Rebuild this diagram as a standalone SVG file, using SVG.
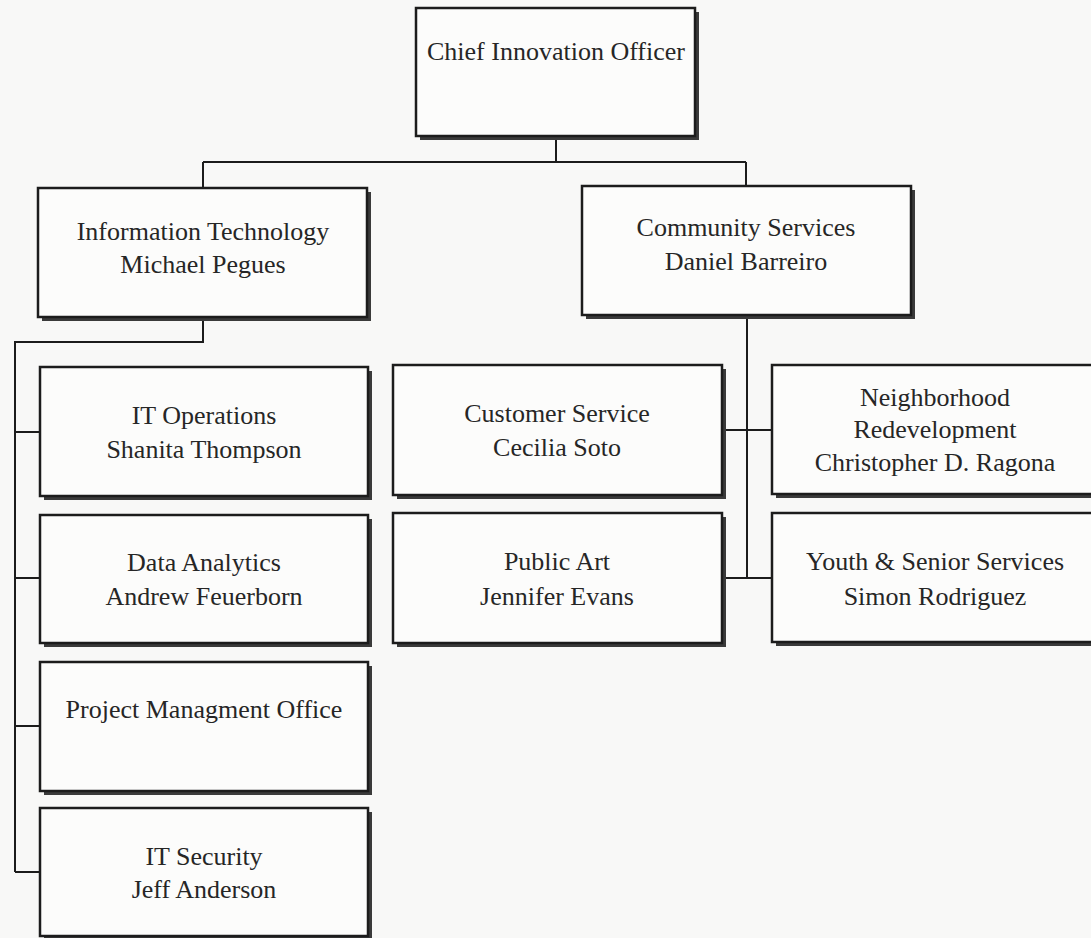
<svg xmlns="http://www.w3.org/2000/svg" width="1091" height="938" viewBox="0 0 1091 938">
  <style>
    .bg { fill: #f8f8f7; }
    .shadow { fill: #3a3a3a; }
    .box { fill: #fcfcfb; stroke: #1c1c1c; stroke-width: 2.5; }
    .link { fill: none; stroke: #1c1c1c; stroke-width: 2; }
    text { font-family: "Liberation Serif", "Times New Roman", serif; font-size: 26px; fill: #262626; text-anchor: middle; }
  </style>

  <rect class="bg" x="0" y="0" width="1091" height="938"/>

  <!-- reporting lines -->
  <g id="connectors">
    <path class="link" d="M556 136 V162 M203 162 H746 M203 162 V188 M746 162 V186"/>
    <path class="link" d="M203 317 V342 H15 V872 M15 432 H40 M15 578 H40 M15 726 H40 M15 872 H40"/>
    <path class="link" d="M747 315 V578 M722 430 H772 M722 578 H772"/>
  </g>

  <g id="chief">
    <rect class="shadow" x="420" y="12" width="279" height="128"/>
    <rect class="box" x="416" y="8" width="279" height="128"/>
    <text x="556" y="60">Chief Innovation Officer</text>
  </g>

  <g id="it">
    <rect class="shadow" x="42" y="192" width="329" height="129"/>
    <rect class="box" x="38" y="188" width="329" height="129"/>
    <text x="203" y="240">Information Technology</text>
    <text x="203" y="273">Michael Pegues</text>
  </g>

  <g id="community">
    <rect class="shadow" x="586" y="190" width="329" height="129"/>
    <rect class="box" x="582" y="186" width="329" height="129"/>
    <text x="746" y="236">Community Services</text>
    <text x="746" y="270">Daniel Barreiro</text>
  </g>

  <g id="it-operations">
    <rect class="shadow" x="44" y="371" width="328" height="129"/>
    <rect class="box" x="40" y="367" width="328" height="129"/>
    <text x="204" y="424">IT Operations</text>
    <text x="204" y="458">Shanita Thompson</text>
  </g>

  <g id="data-analytics">
    <rect class="shadow" x="44" y="519" width="328" height="128"/>
    <rect class="box" x="40" y="515" width="328" height="128"/>
    <text x="204" y="571">Data Analytics</text>
    <text x="204" y="605">Andrew Feuerborn</text>
  </g>

  <g id="pmo">
    <rect class="shadow" x="44" y="666" width="328" height="129"/>
    <rect class="box" x="40" y="662" width="328" height="129"/>
    <text x="204" y="718">Project Managment Office</text>
  </g>

  <g id="it-security">
    <rect class="shadow" x="44" y="812" width="328" height="128"/>
    <rect class="box" x="40" y="808" width="328" height="128"/>
    <text x="204" y="865">IT Security</text>
    <text x="204" y="898">Jeff Anderson</text>
  </g>

  <g id="customer-service">
    <rect class="shadow" x="397" y="369" width="329" height="130"/>
    <rect class="box" x="393" y="365" width="329" height="130"/>
    <text x="557" y="422">Customer Service</text>
    <text x="557" y="456">Cecilia Soto</text>
  </g>

  <g id="public-art">
    <rect class="shadow" x="397" y="517" width="329" height="130"/>
    <rect class="box" x="393" y="513" width="329" height="130"/>
    <text x="557" y="570">Public Art</text>
    <text x="557" y="605">Jennifer Evans</text>
  </g>

  <g id="neighborhood">
    <rect class="shadow" x="776" y="369" width="329" height="129"/>
    <rect class="box" x="772" y="365" width="329" height="129"/>
    <text x="935" y="406">Neighborhood</text>
    <text x="935" y="438">Redevelopment</text>
    <text x="935" y="471">Christopher D. Ragona</text>
  </g>

  <g id="youth-senior">
    <rect class="shadow" x="776" y="517" width="329" height="129"/>
    <rect class="box" x="772" y="513" width="329" height="129"/>
    <text x="935" y="570">Youth &amp; Senior Services</text>
    <text x="935" y="605">Simon Rodriguez</text>
  </g>
</svg>
